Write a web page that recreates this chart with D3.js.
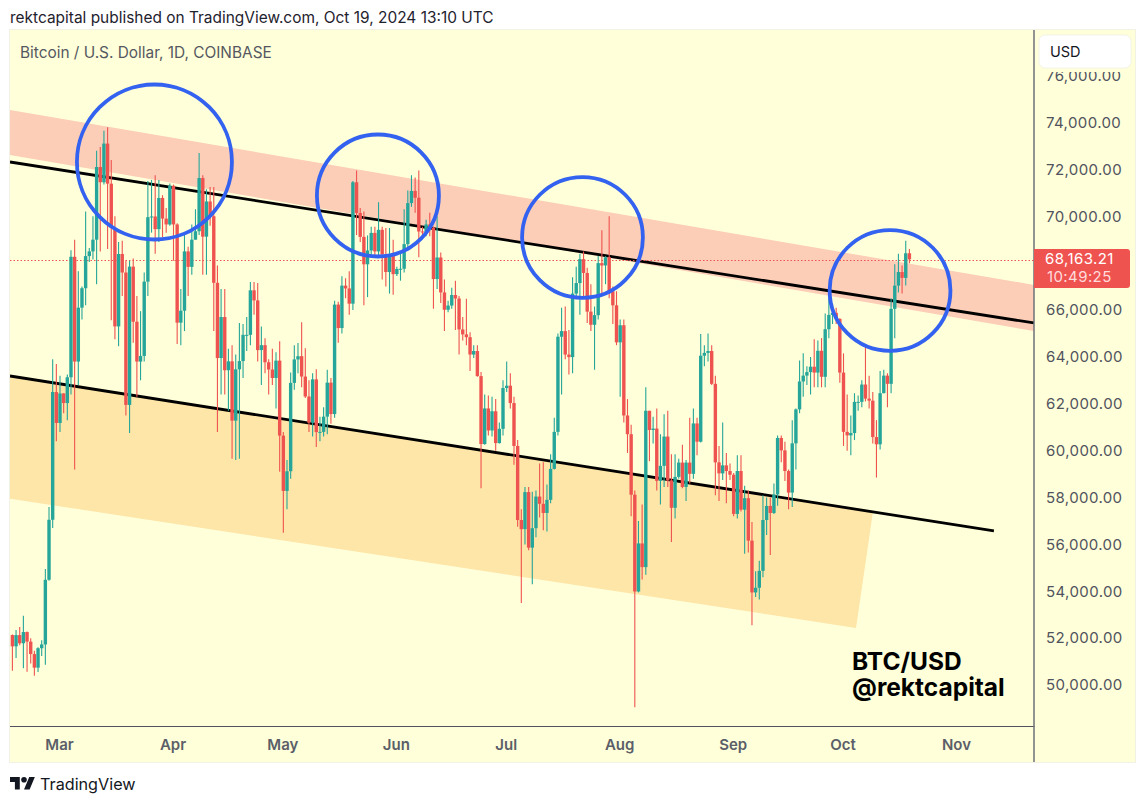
<!DOCTYPE html>
<html>
<head>
<meta charset="utf-8">
<title>Bitcoin / U.S. Dollar</title>
<script src="https://cdn.jsdelivr.net/npm/d3@7"></script>
<style>
  html, body { margin: 0; padding: 0; background: #ffffff; }
  svg { display: block; font-family: Inter, "Liberation Sans", sans-serif; }
</style>
</head>
<body>
<div id="chart"></div>
<script>
var width = 1146;
var height = 803;

// Daily candles, first candle is Feb 17 2024, one row per month
var firstDay = "2024-02-17";
var firstOpen = 52130;
var closes = [
  51650,52130,51780,52260,51850,51320,50740,51570,51730,54490,57050,62500,61180,
  62440,62030,63130,68270,63800,66100,66930,68300,68500,69000,72100,71450,73100,71390,69500,65300,68390,67600,61950,67850,65500,63800,64040,67210,69960,69990,69450,70780,69900,69650,71300,
  69650,65460,65970,68500,67840,69000,69360,71630,69130,70630,70000,67160,63950,65700,63430,63810,61280,63470,63820,64940,64940,66840,66410,64290,64500,63770,63460,63100,63840,60640,
  58280,59120,62890,63890,64030,63160,62310,61190,63040,60790,60800,61450,62900,61560,66230,65230,67040,66920,66270,71450,70140,69120,67950,68540,69290,68500,69420,68370,67620,68360,67530,
  67750,67760,68810,70560,71080,70790,69350,69310,69650,69510,67320,68240,66750,66010,66190,66640,66490,65170,64960,64840,64100,64250,63180,60280,61800,60860,61680,60320,60930,62670,
  62770,62030,60200,57040,56650,58230,55860,56690,58040,57730,57340,57900,59220,60800,64860,65100,64100,63990,66700,67150,68170,67580,65930,65370,65780,68000,67900,68250,66800,66200,64620,
  65350,61500,60700,58120,53990,56040,55030,61700,60880,60940,58710,59350,60600,58730,57560,58880,59490,58450,59490,59010,61160,60380,64050,64170,64250,62850,59500,59030,59370,59130,58970,
  57300,59130,57480,57970,56160,53950,54150,54870,57040,57640,57340,58130,60540,60010,59130,58210,60310,61760,62950,63200,63350,63580,63330,64260,63150,65180,65790,65880,65620,63330,
  60800,60650,60750,62080,62080,62820,62220,62130,60580,60270,62450,63200,62850,66050,67040,67620,67370,68420,68163
];
var highs = [
  52150,52350,52480,52950,52280,52000,51460,51610,51910,54950,57600,63900,63700,
  63200,62450,63250,68550,69000,67650,67000,70200,68650,70000,72800,72950,73650,73800,72400,70000,68900,68950,68100,68100,68200,66600,65950,67600,71500,71550,71750,71550,70900,70350,71400,
  71350,69700,66900,69300,68700,69650,70300,72700,71750,71150,71250,71250,67900,66900,66900,64350,64500,64100,65450,65400,65700,67200,67200,67150,65300,64800,63900,64350,64200,64670,
  60800,59600,63330,64500,64590,65480,64370,63000,63300,63470,61450,61850,63450,63100,66400,66350,67440,67350,67650,71500,71950,70350,70200,69180,69550,69550,70600,69550,69500,69500,69000,
  67850,68400,70300,71100,71750,71650,71950,69550,69850,70150,69560,70000,68450,67300,66400,66950,67250,66600,65700,66480,65050,64500,64500,63350,62400,62350,62300,62200,61200,63000,
  63800,63300,62300,60450,57500,58450,58450,58250,58300,59450,59500,58550,59850,61400,65000,66100,66150,65150,67400,67850,68400,68500,67800,67100,66150,68300,69400,68300,70000,67000,66800,
  65600,65600,62200,61100,58300,57000,57700,62700,61700,61450,61800,60700,61550,61700,59850,59850,59650,60250,59600,61400,61800,61400,64980,64500,65000,64500,63200,60200,61200,59900,59450,
  59050,59800,59800,58500,58300,56950,54850,55300,58100,58000,58000,58600,60650,60650,60380,59200,61300,61800,63850,64150,63600,64000,64750,64700,64800,65850,66500,66250,66100,65650,
  64150,62400,61500,62450,62350,63000,64480,63200,62500,61300,63400,63450,63300,66500,67950,68400,67900,68950,68600
];
var lows = [
  50610,51150,51700,50720,50570,50920,50390,50560,51240,50860,54450,56700,60400,
  60800,61600,61300,62400,59200,62800,65600,66200,68050,68150,67100,68500,71350,68600,65560,64750,64450,66600,61500,60750,64600,62300,63000,63800,66600,69300,68400,68900,69100,69300,69600,
  68100,64550,64500,65100,66600,67500,69000,69200,67500,67500,69600,65100,60800,62400,62400,61700,59650,59600,59650,63100,64250,64500,65800,63800,62800,63300,62400,62800,61800,59100,
  56500,57500,58800,62600,63300,62700,62250,60800,60600,60150,60400,60600,60700,61150,61400,64600,65000,66500,65800,66000,69200,68900,66200,66550,68350,68250,68300,67300,67000,66700,66650,
  67450,67250,67600,68550,70400,70150,68250,69200,69150,69150,66050,66900,66300,65100,65900,66050,65150,64100,64700,64500,63400,63950,63150,58400,60250,60650,60600,60000,60300,60650,
  62500,61800,59400,56750,53500,56000,55750,54300,56300,57150,56600,56550,57750,59200,60650,62400,63900,63250,63300,66600,65800,66550,65450,65100,63450,65600,66700,67100,66500,65400,64500,
  62300,61200,59900,57200,49050,53950,54500,54700,59550,60300,58300,57700,58450,58450,56100,57100,58800,58400,57850,58600,58800,59800,60350,63600,63800,62800,58100,57850,58750,57750,58750,
  57200,57100,57400,55600,55650,52550,53750,53650,54600,56400,55550,57300,57650,59500,58700,57500,57600,59200,61600,62300,62800,62400,62700,62700,62700,62700,64800,65400,65400,62900,
  60200,60000,59800,60450,61700,61850,62100,61800,60300,58850,60050,62450,61850,62450,64800,66750,66700,67050,68000
];

// Price axis labels, 68,000 is hidden behind the last price tag
var priceTicks = [50000,52000,54000,56000,58000,60000,62000,64000,66000,70000,72000,74000,76000];
var lastPrice = 68163.21;
var countdown = "10:49:25";

// Drawings on the chart, as date and price anchors
var resistBand = [["2024-02-16T08:00Z",74530],["2024-11-22T00:00Z",67070],["2024-11-22T00:00Z",65105],["2024-02-16T08:00Z",72610]];
var supportBand = [["2024-02-16T08:00Z",63160],["2024-10-09T02:00Z",57430],["2024-10-04T10:00Z",52435],["2024-02-16T08:00Z",57950]];
var upperLine = [["2024-02-16T08:00Z",72315],["2024-11-22T00:00Z",65446]];
var lowerLine = [["2024-02-16T08:00Z",63185],["2024-11-11T02:00Z",56572]];
var circleDates = ["2024-03-26T19:00Z","2024-05-26T20:00Z","2024-07-21T17:00Z","2024-10-13T17:00Z"];
var circlePrices = [72315,70886,69094,66833];
var circleRadiusDays = [21.17,16.66,16.5,16.5];

var green = "#26a69a";
var red = "#ef5350";
var paneColor = "#ffffd9";

var svg = d3.select("#chart")
    .append("svg")
    .attr("width", width)
    .attr("height", height);

var x = d3.scaleUtc()
    .domain([new Date("2024-03-01T00:00Z"), new Date("2024-11-01T00:00Z")])
    .range([60, 957]);

var y = d3.scaleLinear()
    .domain([50000, 74000])
    .range([685, 122.5]);

var candles = closes.map(function(c, i) {
    return {
        date: d3.utcDay.offset(new Date(firstDay + "T00:00Z"), i),
        open: i === 0 ? firstOpen : closes[i - 1],
        close: c,
        high: highs[i],
        low: lows[i]
    };
});

function anchor(p) { return [x(new Date(p[0])), y(p[1])]; }
var linePath = d3.line();

// Chart background
svg.append("rect")
    .attr("x", 9.5).attr("y", 29.5)
    .attr("width", 1126).attr("height", 733)
    .attr("fill", paneColor)
    .attr("stroke", "#f2f2e4");

svg.append("clipPath").attr("id", "pane")
    .append("rect")
    .attr("x", 10).attr("y", 30)
    .attr("width", 1024).attr("height", 697);

var pane = svg.append("g").attr("clip-path", "url(#pane)");

// Bands and trend lines sit under the candles
pane.append("path")
    .attr("d", linePath(resistBand.map(anchor)) + "Z")
    .attr("fill", "#fccdb7");
pane.append("path")
    .attr("d", linePath(supportBand.map(anchor)) + "Z")
    .attr("fill", "#fee5a8");

pane.selectAll("path.trend")
    .data([upperLine, lowerLine])
    .enter()
    .append("path")
    .attr("class", "trend")
    .attr("d", function(d) { return linePath(d.map(anchor)); })
    .attr("stroke", "#000000")
    .attr("stroke-width", 2.8)
    .attr("fill", "none");

// Last price line
pane.append("line")
    .attr("x1", 10).attr("x2", 1034)
    .attr("y1", Math.ceil(y(lastPrice)) + 0.5).attr("y2", Math.ceil(y(lastPrice)) + 0.5)
    .attr("stroke", red)
    .attr("stroke-width", 1)
    .attr("stroke-dasharray", "1.5 2");

// Candles
pane.selectAll("line.wick")
    .data(candles)
    .enter()
    .append("line")
    .attr("class", "wick")
    .attr("x1", function(d) { return x(d.date); })
    .attr("x2", function(d) { return x(d.date); })
    .attr("y1", function(d) { return y(d.high); })
    .attr("y2", function(d) { return y(d.low); })
    .attr("stroke", function(d) { return d.close >= d.open ? green : red; })
    .attr("stroke-width", 1.1);

pane.selectAll("rect.body")
    .data(candles)
    .enter()
    .append("rect")
    .attr("class", "body")
    .attr("x", function(d) { return x(d.date) - 1.7; })
    .attr("width", 3.4)
    .attr("y", function(d) { return y(Math.max(d.open, d.close)); })
    .attr("height", function(d) { return Math.max(1, Math.abs(y(d.open) - y(d.close))); })
    .attr("fill", function(d) { return d.close >= d.open ? green : red; });

// Blue circles
pane.selectAll("circle")
    .data(circleDates)
    .enter()
    .append("circle")
    .attr("cx", function(d) { return x(new Date(d)); })
    .attr("cy", function(d, i) { return y(circlePrices[i]); })
    .attr("r", function(d, i) {
        var centre = new Date(d);
        return x(new Date(+centre + circleRadiusDays[i] * 864e5)) - x(centre);
    })
    .attr("fill", "none")
    .attr("stroke", "#3362f0")
    .attr("stroke-width", 3.8);

// Price axis
var yAxis = d3.axisRight(y)
    .tickValues(priceTicks)
    .tickFormat(d3.format(",.2f"))
    .tickSize(0)
    .tickPadding(12);

var yAxisG = svg.append("g")
    .attr("transform", "translate(1034,0)")
    .call(yAxis);
yAxisG.select(".domain").remove();
yAxisG.selectAll("text")
    .attr("font-family", "Inter, 'Liberation Sans', sans-serif")
    .attr("font-size", 15)
    .attr("letter-spacing", 0.4)
    .attr("fill", "#50535e");

// Time axis
var xAxis = d3.axisBottom(x)
    .ticks(d3.utcMonth.every(1))
    .tickFormat(d3.utcFormat("%b"))
    .tickSize(0)
    .tickPadding(12);

var xAxisG = svg.append("g")
    .attr("transform", "translate(-1,727)")
    .call(xAxis);
xAxisG.select(".domain").remove();
xAxisG.selectAll("text")
    .attr("font-family", "Inter, 'Liberation Sans', sans-serif")
    .attr("font-size", 15)
    .attr("font-weight", 600)
    .attr("fill", "#5b5e68");

// Axis border lines
svg.append("line")
    .attr("x1", 10).attr("x2", 1034.5)
    .attr("y1", 726.5).attr("y2", 726.5)
    .attr("stroke", "#50535e").attr("stroke-width", 1.2);
svg.append("line")
    .attr("x1", 1034).attr("x2", 1034)
    .attr("y1", 30).attr("y2", 762)
    .attr("stroke", "#6e7078").attr("stroke-width", 1.5);

// USD button covers the top of the scale
svg.append("rect")
    .attr("x", 1035).attr("y", 30)
    .attr("width", 100).attr("height", 42)
    .attr("fill", paneColor);
svg.append("rect")
    .attr("x", 1039).attr("y", 35)
    .attr("width", 92).attr("height", 33)
    .attr("rx", 6)
    .attr("fill", "#ffffff")
    .attr("stroke", "#f3f3ea");
svg.append("text")
    .attr("x", 1050).attr("y", 56.5)
    .attr("font-size", 14.5)
    .attr("fill", "#131722")
    .text("USD");

// Last price tag
svg.append("path")
    .attr("d", "M1034,249H1127a3,3 0 0 1 3,3V285a3,3 0 0 1 -3,3H1034Z")
    .attr("fill", red);
svg.append("text")
    .attr("x", 1045).attr("y", 264)
    .attr("font-size", 15)
    .attr("letter-spacing", 0.4)
    .attr("fill", "#ffffff")
    .text(d3.format(",.2f")(lastPrice));
svg.append("text")
    .attr("x", 1047).attr("y", 282)
    .attr("font-size", 15)
    .attr("letter-spacing", 0.4)
    .attr("fill", "#ffdcdc")
    .text(countdown);

// Header, title, watermark text
svg.append("text")
    .attr("x", 10).attr("y", 23)
    .attr("font-size", 15.45)
    .attr("fill", "#1e222d")
    .text("rektcapital published on TradingView.com, Oct 19, 2024 13:10 UTC");
svg.append("text")
    .attr("x", 20).attr("y", 58)
    .attr("font-size", 15.4)
    .attr("fill", "#555861")
    .text("Bitcoin / U.S. Dollar, 1D, COINBASE");
svg.append("text")
    .attr("x", 852).attr("y", 670)
    .attr("font-size", 24.5)
    .attr("font-weight", 700)
    .attr("fill", "#000000")
    .text("BTC/USD");
svg.append("text")
    .attr("x", 852).attr("y", 696)
    .attr("font-size", 24.5)
    .attr("font-weight", 700)
    .attr("fill", "#000000")
    .text("@rektcapital");

// TradingView logo
var logo = svg.append("g").attr("transform", "translate(10,774.2) scale(0.7)").attr("fill", "#131722");
logo.append("path").attr("d", "M14 22H7V11H0V4h14v18zM28 22h-8l7.5-18h8L28 22z");
logo.append("circle").attr("cx", 20).attr("cy", 8).attr("r", 4);
svg.append("text")
    .attr("x", 40).attr("y", 790)
    .attr("font-size", 16.2)
    .attr("fill", "#131722")
    .text("TradingView");
</script>
</body>
</html>
